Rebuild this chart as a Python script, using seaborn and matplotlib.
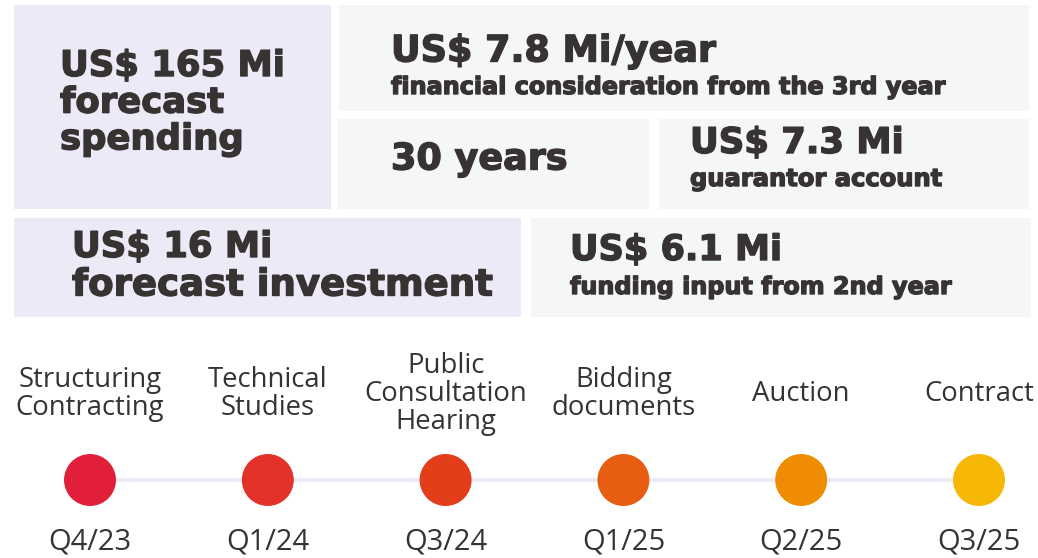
import matplotlib
matplotlib.use("Agg")
import matplotlib.pyplot as plt
import matplotlib.patheffects as pe
from matplotlib.patches import Rectangle
import seaborn as sns
import pandas as pd

# key figures shown in the boxes
kpi_values = ["US$ 165 Mi", "US$ 7.8 Mi/year", "30 years", "US$ 7.3 Mi",
              "US$ 16 Mi", "US$ 6.1 Mi"]
kpi_labels = ["forecast\nspending", "financial consideration from the 3rd year", "",
              "guarantor account", "forecast investment", "funding input from 2nd year"]

# timeline
stages = ["Structuring\nContracting", "Technical\nStudies", "Public\nConsultation\nHearing",
          "Bidding\ndocuments", "Auction", "Contract"]
dates = ["Q4/23", "Q1/24", "Q3/24", "Q1/25", "Q2/25", "Q3/25"]
dot_colors = ["#E11F3A", "#E2322A", "#E33D1A", "#E75E12", "#EF8C02", "#F7B705"]

INK = "#373332"
LAV = "#ECEAF7"
GREY = "#F5F6F8"

sns.set_theme(style="white")
plt.rcParams["font.family"] = ["DejaVu Sans"]

fig = plt.figure(figsize=(10.38, 5.58), dpi=100)
ax = fig.add_axes([0, 0, 1, 1])
ax.set_xlim(0, 1038)
ax.set_ylim(558, 0)
ax.axis("off")

heavy = [pe.withStroke(linewidth=1.0, foreground=INK)]

# box layout: x0, y0, x1, y1, colour, text x, value y, label y, value size, label size
boxes = [
    (14, 5, 331, 209, LAV, 60, 66, 121, 25.5, 25.5),
    (339, 5, 1029, 111, GREY, 391, 51, 87, 26.3, 17.2),
    (338, 119, 649, 209, GREY, 391, 159, 0, 26.3, 17),
    (659, 119, 1029, 209, GREY, 690, 143, 179, 25.5, 17.4),
    (14, 218, 521, 317, LAV, 72, 247, 285, 25.5, 26.7),
    (531, 218, 1031, 317, GREY, 570, 250, 287, 25.3, 17.2),
]
for (x0, y0, x1, y1, col, tx, vy, ly, vs, ls), val, lab in zip(boxes, kpi_values, kpi_labels):
    ax.add_patch(Rectangle((x0, y0), x1 - x0, y1 - y0, facecolor=col, edgecolor="none"))
    ax.text(tx, vy, val, fontsize=vs, fontweight="bold", color=INK, va="center", ha="left",
            path_effects=heavy)
    if lab:
        ax.text(tx, ly, lab, fontsize=ls, fontweight="bold", color=INK, va="center",
                ha="left", linespacing=1.1, path_effects=heavy)

# timeline axes: stage index on x
tl = fig.add_axes([0, 0, 1, 1])
step = (979 - 90) / (len(stages) - 1)
tl.patch.set_alpha(0)

df = pd.DataFrame({"idx": range(len(stages)), "stage": stages, "date": dates,
                   "y": [480] * len(stages)})
sns.lineplot(data=df, x="idx", y="y", ax=tl, color=LAV, lw=3, zorder=1)
sns.scatterplot(data=df, x="idx", y="y", hue="stage", palette=dot_colors, s=1400,
                edgecolor="none", legend=False, ax=tl, zorder=2)
for i, row in df.iterrows():
    tl.text(row["idx"], 394, row["stage"], ha="center", va="center", fontsize=19.8,
            family="Open Sans", color=INK, linespacing=1.0)
    tl.text(row["idx"], 542, row["date"], ha="center", va="center", fontsize=21,
            family="Open Sans", color=INK)
tl.set_xlim(-90 / step, (1038 - 90) / step)
tl.set_ylim(558, 0)
tl.axis("off")

fig.savefig("out.png", dpi=100, facecolor="white")
